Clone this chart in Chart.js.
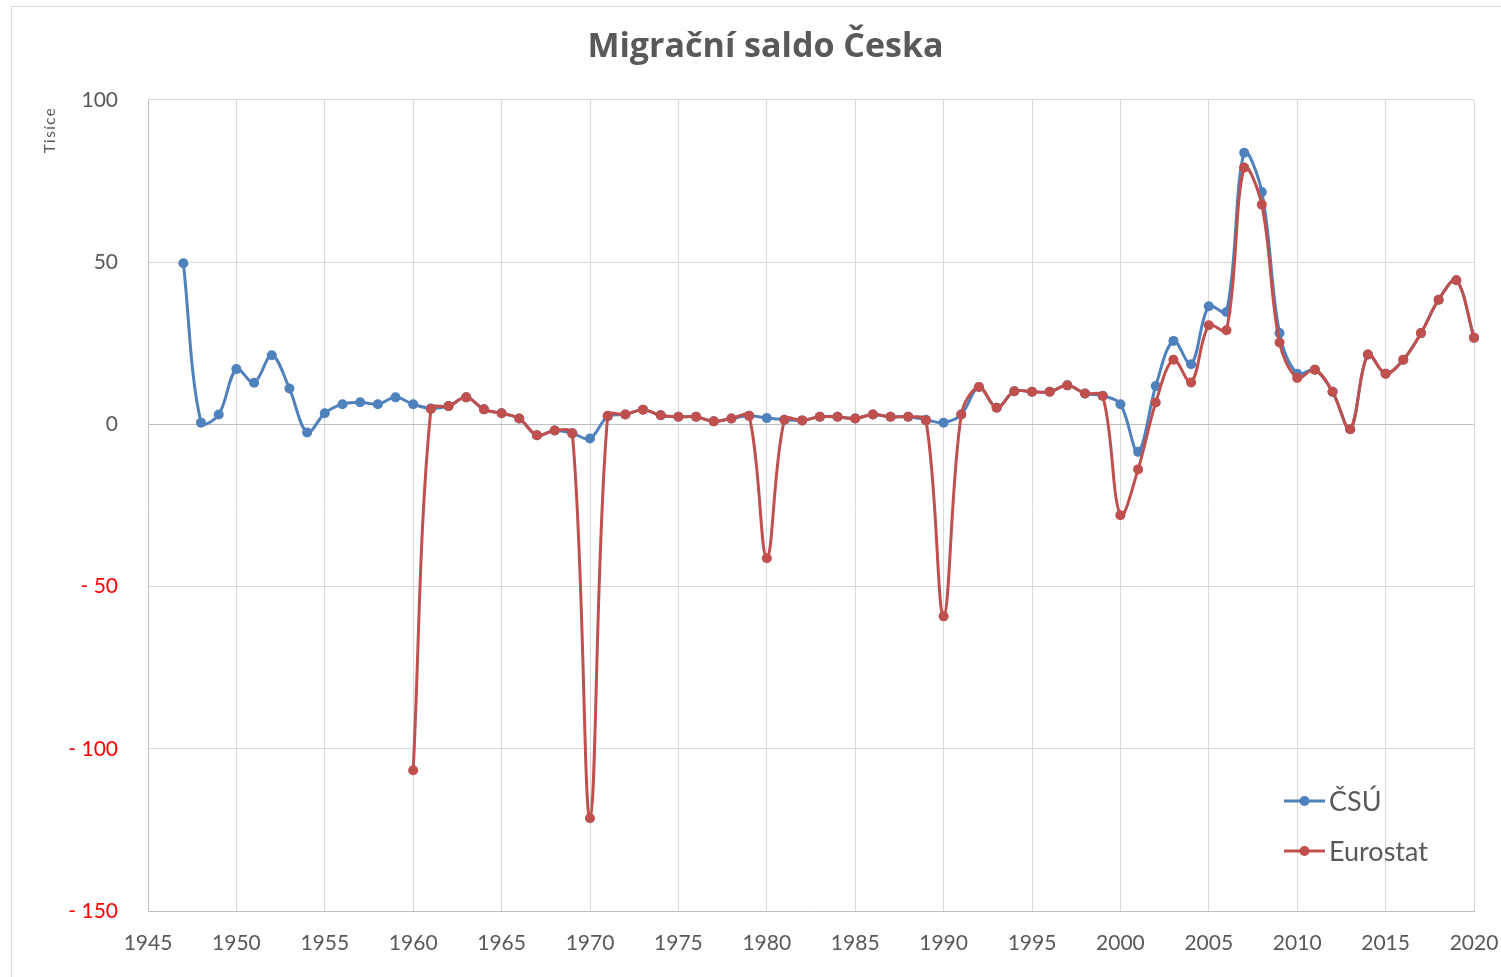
<!DOCTYPE html>
<html>
<head>
<meta charset="utf-8">
<script src="https://cdn.jsdelivr.net/npm/chart.js@4.4.1/dist/chart.umd.min.js"></script>
<style>
  html, body { margin: 0; padding: 0; background: #fff; }
  #wrap { width: 1501px; height: 977px; }
</style>
</head>
<body>
<div id="wrap"><canvas id="chart"></canvas></div>
<script>
// roky 1947-2020
const years = [];
for (let y = 1947; y <= 2020; y++) years.push(y);

// ČSÚ (tisíce)
const csu = [
  49.6, 0.5, 3.0, 17.0, 12.8, 21.3, 11.0, -2.5, 3.4, 6.2,
  6.8, 6.2, 8.3, 6.2, 4.9, 5.6, 8.3, 4.6, 3.4, 1.8,
  -3.4, -1.9, -2.8, -4.4, 2.4, 3.0, 4.5, 2.8, 2.3, 2.3,
  0.9, 1.8, 2.6, 1.9, 1.4, 1.2, 2.3, 2.3, 1.8, 3.0,
  2.3, 2.3, 1.4, 0.5, 3.0, 11.5, 5.1, 10.2, 10.0, 10.0,
  12.0, 9.5, 8.8, 6.2, -8.5, 11.8, 25.7, 18.5, 36.4, 34.6,
  83.7, 71.6, 28.1, 15.6, 16.8, 10.0, -1.5, 21.5, 15.6, 19.9,
  28.1, 38.4, 44.4, 26.7
];

// Eurostat (tisíce), od 1960
const eurostat = [
  null, null, null, null, null, null, null, null, null, null, null, null, null,
  -106.6, 4.7, 5.6, 8.3, 4.6, 3.4, 1.8,
  -3.4, -1.9, -2.8, -121.4, 2.6, 3.0, 4.5, 2.8, 2.3, 2.3,
  0.9, 1.8, 2.6, -41.3, 1.4, 1.2, 2.3, 2.3, 1.8, 3.0,
  2.3, 2.3, 1.2, -59.2, 3.0, 11.5, 5.1, 10.2, 10.0, 10.0,
  12.0, 9.5, 8.7, -28.0, -13.9, 6.7, 19.9, 12.9, 30.5, 29.0,
  79.1, 67.7, 25.2, 14.3, 16.8, 10.0, -1.5, 21.5, 15.6, 19.9,
  28.1, 38.4, 44.4, 26.7
];

const BLUE = '#4f81bd';
const RED = '#c0504d';
const GREY = '#595959';
const FONT = 'Lato, "Open Sans", sans-serif';

function toPoints(values) {
  return years.map((yr, i) => ({ x: yr, y: values[i] }));
}

// rámeček grafu, popisek osy a legenda uvnitř plochy
const extras = {
  id: 'extras',
  beforeDraw(chart) {
    const ctx = chart.ctx;
    ctx.save();
    ctx.strokeStyle = '#d9d9d9';
    ctx.lineWidth = 1;
    ctx.strokeRect(11.5, 6.5, 3000, 3000);
    ctx.restore();
  },
  afterDraw(chart) {
    const ctx = chart.ctx;
    ctx.save();
    // Tisíce
    ctx.translate(50, 130);
    ctx.rotate(-Math.PI / 2);
    ctx.fillStyle = GREY;
    ctx.font = '15px ' + FONT;
    ctx.letterSpacing = '1.5px';
    ctx.textAlign = 'center';
    ctx.textBaseline = 'middle';
    ctx.fillText('Tisíce', 0, 0);
    ctx.restore();

    // legenda
    const items = [chart.data.datasets[1], chart.data.datasets[0]];
    items.forEach((ds, i) => {
      const y = 801 + i * 50;
      ctx.save();
      ctx.strokeStyle = ds.borderColor;
      ctx.lineWidth = 3;
      ctx.beginPath();
      ctx.moveTo(1284, y);
      ctx.lineTo(1325, y);
      ctx.stroke();
      ctx.fillStyle = ds.backgroundColor;
      ctx.beginPath();
      ctx.arc(1304.5, y, 5, 0, Math.PI * 2);
      ctx.fill();
      ctx.fillStyle = GREY;
      ctx.font = '27px ' + FONT;
      ctx.textBaseline = 'middle';
      ctx.fillText(ds.label, 1329, y + 1);
      ctx.restore();
    });
  }
};

new Chart(document.getElementById('chart'), {
  type: 'line',
  data: {
    datasets: [
      {
        label: 'Eurostat',
        data: toPoints(eurostat),
        borderColor: RED,
        backgroundColor: RED,
        borderWidth: 3,
        pointRadius: 5,
        pointHoverRadius: 5,
        pointBorderWidth: 0,
        tension: 0.35,
        spanGaps: false,
        clip: false,
        order: 0
      },
      {
        label: 'ČSÚ',
        data: toPoints(csu),
        borderColor: BLUE,
        backgroundColor: BLUE,
        borderWidth: 3,
        pointRadius: 5,
        pointHoverRadius: 5,
        pointBorderWidth: 0,
        tension: 0.35,
        clip: false,
        order: 1
      }
    ]
  },
  options: {
    responsive: true,
    maintainAspectRatio: false,
    animation: false,
    layout: { padding: { left: 57, right: 27, top: 0, bottom: 0 } },
    plugins: {
      legend: { display: false },
      tooltip: { enabled: false },
      title: {
        display: true,
        text: 'Migrační saldo Česka',
        color: GREY,
        font: { family: '"Open Sans", Lato, sans-serif', size: 34, weight: 'bold' },
        padding: { top: 27, bottom: 32 }
      }
    },
    scales: {
      x: {
        type: 'linear',
        min: 1945,
        max: 2020,
        afterFit: s => { s.height = 66; s.paddingRight = 0; s.paddingLeft = 0; },
        ticks: {
          stepSize: 5,
          color: GREY,
          padding: 20,
          font: { family: FONT, size: 21 },
          callback: v => String(v)
        },
        grid: { color: '#d9d9d9', drawTicks: false },
        border: { color: '#bfbfbf' }
      },
      y: {
        min: -150,
        max: 100,
        afterFit: s => { s.width = 91; },
        ticks: {
          stepSize: 50,
          padding: 30,
          font: { family: FONT, size: 21 },
          color: c => (c.tick && c.tick.value < 0 ? '#ff0000' : GREY),
          callback: v => (v < 0 ? '- ' + Math.abs(v) : String(v))
        },
        grid: {
          drawTicks: false,
          color: c => (c.tick && c.tick.value === 0 ? '#bfbfbf' : '#d9d9d9')
        },
        border: { color: '#bfbfbf' }
      }
    }
  },
  plugins: [extras]
});
</script>
</body>
</html>
